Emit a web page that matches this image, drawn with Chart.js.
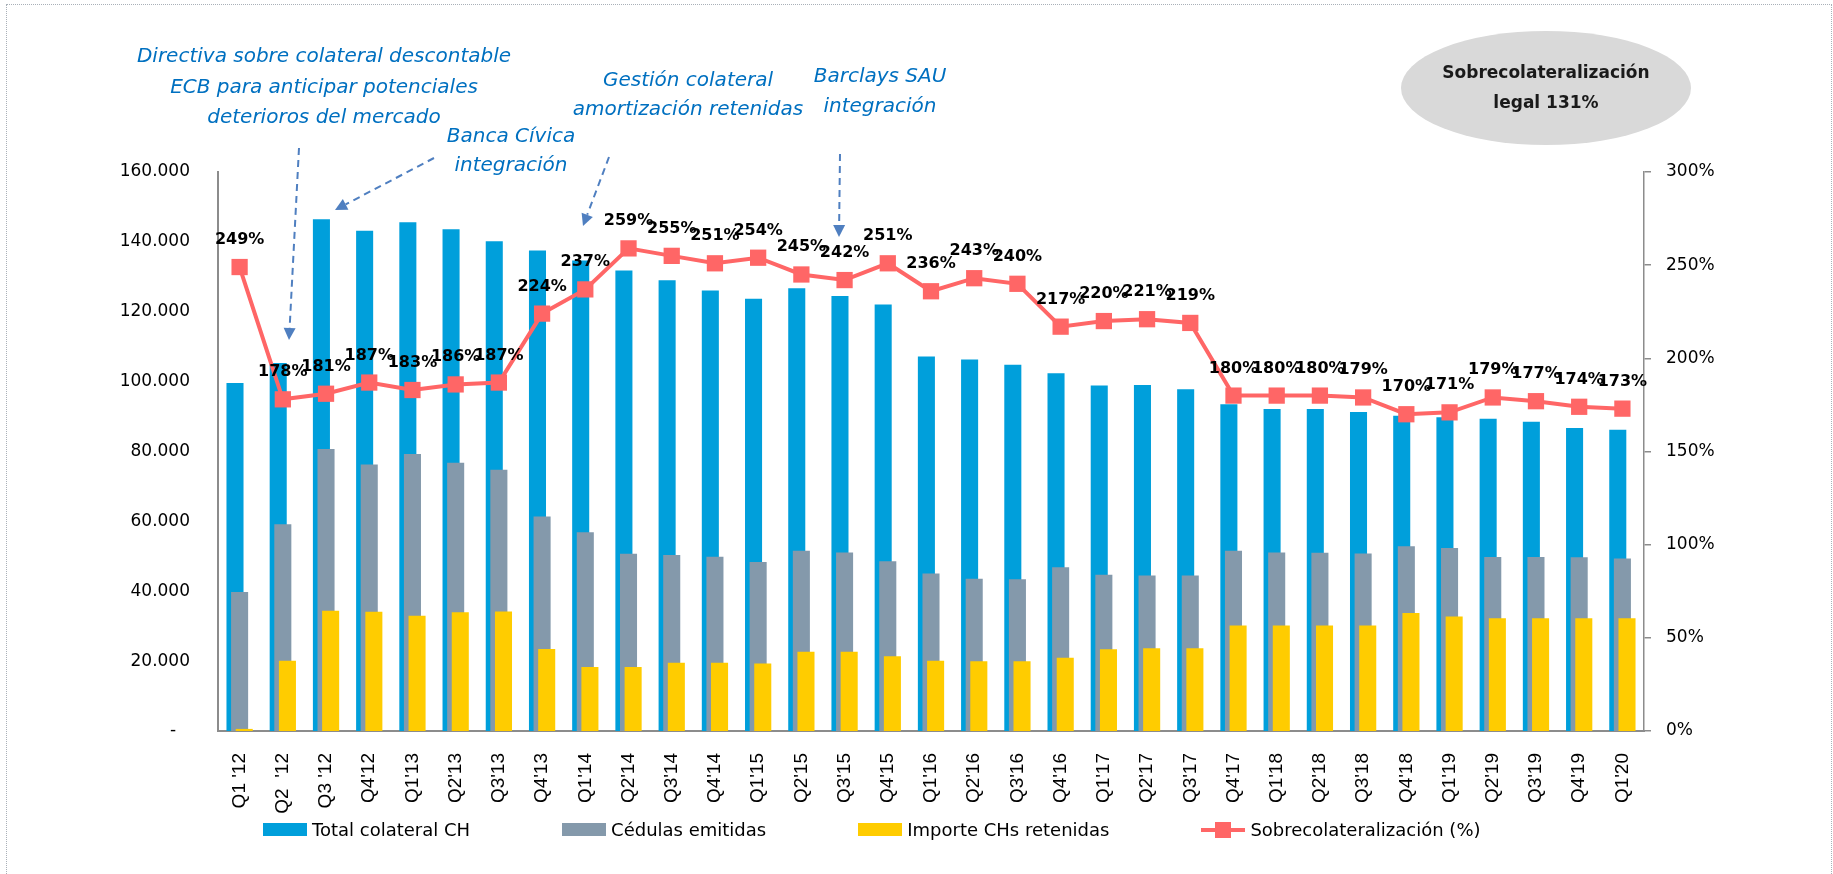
<!DOCTYPE html>
<html lang="es">
<head>
    <meta charset="UTF-8">
    <title>Sobrecolateralización</title>
    <!-- Chart.js -->
    <script src="https://cdn.jsdelivr.net/npm/chart.js"></script>
    <style>
        body { margin: 0; background: #fff; }
        #wrap { position: relative; width: 1833px; height: 874px; overflow: hidden; }
        #frame { position: absolute; left: 6px; top: 4px; width: 1824px; height: 900px; border: 1px dotted #a9b0b8; }
        #myChart { position: absolute; left: 0; top: 0; }
        #legend {
            position: absolute; left: 263px; top: 819px;
            display: flex; gap: 92px;
            font: 18px "DejaVu Sans", sans-serif; color: #000;
        }
        .item { display: flex; align-items: center; gap: 5px; white-space: nowrap; }
        .key { width: 44px; height: 13px; }
        .key.line { position: relative; height: 18px; }
        .key.line .bar { position: absolute; left: 0; right: 0; top: 7px; height: 4px; background: #ff6666; }
        .key.line .dot { position: absolute; left: 14px; top: 1px; width: 16px; height: 16px; background: #ff6666; }
    </style>
</head>
<body>
<div id="wrap">
    <div id="frame"></div>
    <canvas id="myChart" width="1833" height="874"></canvas>
    <div id="legend"></div>
</div>

<script>
    // quarter labels
    const quarters = ["Q1 '12", "Q2  '12", "Q3 '12", "Q4'12", "Q1'13", "Q2'13", "Q3'13", "Q4'13",
        "Q1'14", "Q2'14", "Q3'14", "Q4'14", "Q1'15", "Q2'15", "Q3'15", "Q4'15",
        "Q1'16", "Q2'16", "Q3'16", "Q4'16", "Q1'17", "Q2'17", "Q3'17", "Q4'17",
        "Q1'18", "Q2'18", "Q3'18", "Q4'18", "Q1'19", "Q2'19", "Q3'19", "Q4'19", "Q1'20"];

    // millones de euros (left axis)
    const totalColateral = [99600, 105300, 146500, 143200, 145600, 143600, 140200, 137500,
        134700, 131800, 129000, 126100, 123700, 126700, 124500, 122100,
        107200, 106300, 104800, 102400, 98900, 99000, 97800, 93500,
        92200, 92200, 91300, 90200, 89800, 89400, 88500, 86700, 86200];

    const cedulasEmitidas = [39800, 59200, 80700, 76300, 79300, 76800, 74800, 61400,
        56900, 50700, 50400, 49900, 48400, 51600, 51100, 48600,
        45100, 43600, 43400, 46900, 44700, 44500, 44500, 51600,
        51100, 51000, 50800, 52900, 52400, 49800, 49800, 49700, 49400];

    const importeRetenidas = [600, 20100, 34400, 34100, 33000, 34000, 34200, 23500,
        18300, 18300, 19500, 19500, 19300, 22700, 22700, 21400,
        20100, 20000, 20000, 21000, 23400, 23700, 23700, 30200,
        30200, 30200, 30200, 33800, 32800, 32300, 32300, 32300, 32300];

    // % (right axis)
    const sobrecolateralizacion = [249, 178, 181, 187, 183, 186, 187, 224,
        237, 259, 255, 251, 254, 245, 242, 251,
        236, 243, 240, 217, 220, 221, 219, 180,
        180, 180, 179, 170, 171, 179, 177, 174, 173];

    const leftTicks = [0, 20000, 40000, 60000, 80000, 100000, 120000, 140000, 160000];
    const rightTicks = [0, 50, 100, 150, 200, 250, 300];

    const seriesNames = ['Total colateral CH', 'Cédulas emitidas', 'Importe CHs retenidas', 'Sobrecolateralización (%)'];
    const seriesColors = ['#009fdb', '#8499ab', '#ffcc00', '#ff6666'];

    // blue notes above the chart
    const notes = [
        { lines: ['Directiva sobre colateral descontable', 'ECB para anticipar potenciales', 'deterioros del mercado'], x: 324, y: [57, 88, 118] },
        { lines: ['Banca Cívica', 'integración'], x: 511, y: [137, 166] },
        { lines: ['Gestión colateral', 'amortización retenidas'], x: 688, y: [81, 110] },
        { lines: ['Barclays SAU', 'integración'], x: 880, y: [77, 107] }
    ];
    const arrows = [[299, 148, 289, 340], [434, 158, 335, 210], [609, 157, 583, 226], [840, 154, 839, 237]];

    const FONT = '"DejaVu Sans", sans-serif';
    Chart.defaults.font.family = FONT;
    Chart.defaults.color = '#000';

    function fmtMiles(v) {
        if (v === 0) return '-\u2002 ';
        return String(v).replace(/\B(?=(\d{3})+(?!\d))/g, '.');
    }

    // draw datasets in index order so the first bar ends up at the back
    const drawOrder = {
        id: 'drawOrder',
        beforeDatasetsDraw(chart) {
            chart.data.datasets.forEach((ds, i) => {
                if (chart.isDatasetVisible(i)) chart.getDatasetMeta(i).controller.draw();
            });
            return false;
        }
    };

    const extras = {
        id: 'extras',
        afterDraw(chart) {
            const ctx = chart.ctx;
            ctx.save();

            // % labels over the line
            const meta = chart.getDatasetMeta(3);
            ctx.font = 'bold 16px ' + FONT;
            ctx.fillStyle = '#000';
            ctx.textAlign = 'center';
            ctx.textBaseline = 'alphabetic';
            meta.data.forEach((pt, i) => {
                ctx.fillText(sobrecolateralizacion[i] + '%', pt.x, pt.y - 23);
            });

            // notes
            ctx.font = 'italic 20px ' + FONT;
            ctx.fillStyle = '#0070c0';
            ctx.textBaseline = 'middle';
            notes.forEach(n => n.lines.forEach((t, k) => ctx.fillText(t, n.x, n.y[k])));

            // dashed arrows
            ctx.strokeStyle = '#4f7fc0';
            ctx.fillStyle = '#4f7fc0';
            ctx.lineWidth = 2;
            arrows.forEach(([x1, y1, x2, y2]) => {
                const a = Math.atan2(y2 - y1, x2 - x1);
                const ex = x2 - 12 * Math.cos(a), ey = y2 - 12 * Math.sin(a);
                ctx.setLineDash([7, 5]);
                ctx.beginPath();
                ctx.moveTo(x1, y1);
                ctx.lineTo(ex, ey);
                ctx.stroke();
                ctx.setLineDash([]);
                ctx.beginPath();
                ctx.moveTo(x2, y2);
                ctx.lineTo(ex + 6 * Math.sin(a), ey - 6 * Math.cos(a));
                ctx.lineTo(ex - 6 * Math.sin(a), ey + 6 * Math.cos(a));
                ctx.closePath();
                ctx.fill();
            });

            // legal minimum bubble
            ctx.fillStyle = '#d9d9d9';
            ctx.beginPath();
            ctx.ellipse(1546, 88, 145, 57, 0, 0, Math.PI * 2);
            ctx.fill();
            ctx.fillStyle = '#1a1a1a';
            ctx.font = 'bold 17px ' + FONT;
            ctx.fillText('Sobrecolateralización', 1546, 74);
            ctx.fillText('legal 131%', 1546, 104);

            ctx.restore();
        }
    };

    const barOpts = { categoryPercentage: 0.32, barPercentage: 3.7, borderWidth: 0 };

    const ctx = document.getElementById('myChart').getContext('2d');
    new Chart(ctx, {
        type: 'bar',
        data: {
            labels: quarters,
            datasets: [
                Object.assign({ label: seriesNames[0], data: totalColateral, backgroundColor: seriesColors[0], yAxisID: 'y' }, barOpts),
                Object.assign({ label: seriesNames[1], data: cedulasEmitidas, backgroundColor: seriesColors[1], yAxisID: 'y' }, barOpts),
                Object.assign({ label: seriesNames[2], data: importeRetenidas, backgroundColor: seriesColors[2], yAxisID: 'y' }, barOpts),
                {
                    type: 'line',
                    label: seriesNames[3],
                    data: sobrecolateralizacion,
                    yAxisID: 'y1',
                    borderColor: seriesColors[3],
                    backgroundColor: seriesColors[3],
                    borderWidth: 4,
                    pointStyle: 'rect',
                    pointRadius: 11.5,
                    pointBorderWidth: 0,
                    pointBackgroundColor: seriesColors[3],
                    tension: 0,
                    fill: false
                }
            ]
        },
        options: {
            responsive: false,
            animation: false,
            layout: { padding: { top: 172, bottom: 61, left: 0, right: 0 } },
            plugins: {
                legend: { display: false },
                tooltip: { enabled: false }
            },
            scales: {
                x: {
                    grid: { display: false },
                    border: { display: true, color: '#8c8c8c', width: 2 },
                    ticks: {
                        minRotation: 90, maxRotation: 90, padding: 14, autoSkip: false,
                        font: { family: '"Liberation Sans", Arial, sans-serif', size: 19 }
                    },
                    afterFit(s) { s.height = 82; }
                },
                y: {
                    position: 'left',
                    min: 0, max: 160000,
                    grid: { display: false },
                    border: { display: true, color: '#8c8c8c', width: 2 },
                    afterBuildTicks(s) { s.ticks = leftTicks.map(v => ({ value: v })); },
                    ticks: { padding: 20, font: { size: 17 }, callback: v => fmtMiles(v) },
                    afterFit(s) { s.width = 218; }
                },
                y1: {
                    position: 'right',
                    min: 0, max: 300,
                    grid: { drawOnChartArea: false, drawTicks: true, tickLength: 7, color: '#8c8c8c', lineWidth: 1.5 },
                    border: { display: true, color: '#8c8c8c', width: 1.5 },
                    afterBuildTicks(s) { s.ticks = rightTicks.map(v => ({ value: v })); },
                    ticks: { padding: 15, font: { size: 17 }, callback: v => v + '%' },
                    afterFit(s) { s.width = 189; }
                }
            }
        },
        plugins: [drawOrder, extras]
    });

    // legend
    const legend = document.getElementById('legend');
    seriesNames.forEach((name, i) => {
        const item = document.createElement('div');
        item.className = 'item';
        const key = document.createElement('div');
        if (i === 3) {
            key.className = 'key line';
            key.innerHTML = '<div class="bar"></div><div class="dot"></div>';
        } else {
            key.className = 'key';
            key.style.background = seriesColors[i];
        }
        const txt = document.createElement('span');
        txt.textContent = name;
        item.appendChild(key);
        item.appendChild(txt);
        legend.appendChild(item);
    });
</script>
</body>
</html>
